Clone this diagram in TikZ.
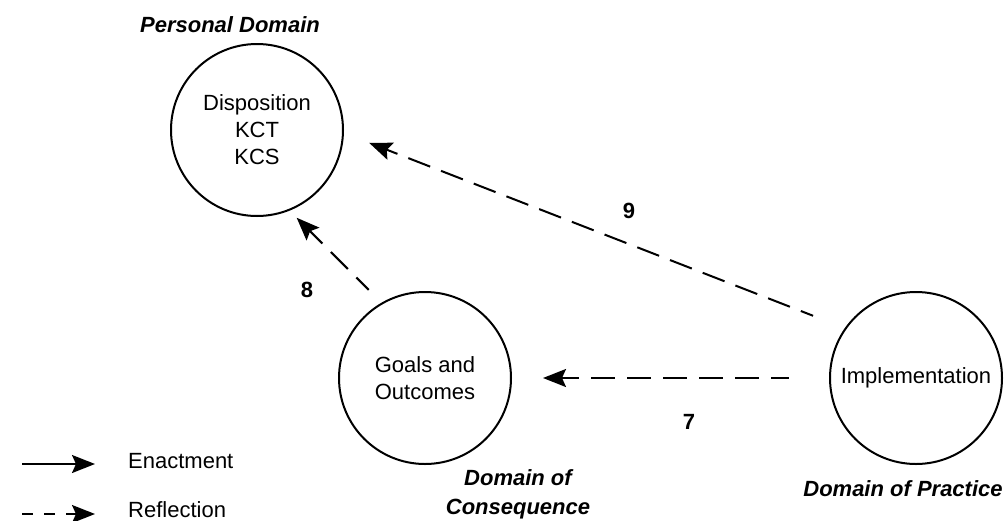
\documentclass[tikz,border=0pt]{standalone}
\usepackage{fontspec}
\setmainfont{Liberation Sans}
\usetikzlibrary{arrows.meta}
\begin{document}
\begin{tikzpicture}[x=1pt,y=-1pt,
  every node/.style={font=\fontsize{22}{27}\selectfont},
  circ/.style={circle,draw,line width=2pt,minimum size=172pt,inner sep=0pt,align=center},
  dom/.style={font=\fontsize{22}{29}\selectfont\bfseries\itshape,align=center,inner sep=0pt},
  num/.style={font=\fontsize{22}{27}\selectfont\bfseries,inner sep=0pt,anchor=base},
  legtext/.style={inner sep=0pt,anchor=base west},
  tipa/.style={-{Stealth[length=23pt,width=18pt,inset=4pt]}},
  refl/.style={line width=2pt,dash pattern=on 24pt off 12pt,dash phase=6pt,{Stealth[length=23pt,width=18pt,inset=4pt]}-},
  enact/.style={line width=2pt,tipa},
  legrefl/.style={line width=2pt,dash pattern=on 11pt off 11pt,tipa},
]
\useasboundingbox (0,0) rectangle (1007,520);

% circles
\node[circ] (c1) at (257,130) {Disposition\\KCT\\KCS};
\node[circ] (c2) at (425,378) {Goals and\\Outcomes};
\node[circ] (c3) at (916,378) {Implementation};

% domain labels
\node[dom,anchor=base] (d1) at (230,32) {Personal Domain};
\node[dom] (d2) at (518,494) {Domain of\\Consequence};
\node[dom,anchor=base] (d3) at (903,496) {Domain of Practice};

% reflection arrows
\draw[refl,dash pattern=on 23.4pt off 11.7pt,dash phase=11.4pt,shorten <=27pt,shorten >=34pt] (c1.-2.1) -- (c3.145.2);
\draw[refl,shorten <=10pt,shorten >=18pt] (c1.-68.8) -- (c2.120.4);
\draw[refl,shorten <=31pt,shorten >=40pt] (c2.east) -- (c3.west);

% numbers
\node[num] (n9) at (629,218) {9};
\node[num] (n8) at (307,297) {8};
\node[num] (n7) at (689,429) {7};

% legend
\coordinate (l1s) at (22,464);
\coordinate (l1e) at (95,464);
\coordinate (l2s) at (22,514);
\coordinate (l2e) at (95,514);
\draw[enact] (l1s) -- (l1e);
\draw[legrefl] (l2s) -- (l2e);
\node[legtext] (t1) at (128,468) {Enactment};
\node[legtext] (t2) at (128,517) {Reflection};
\end{tikzpicture}
\end{document}
